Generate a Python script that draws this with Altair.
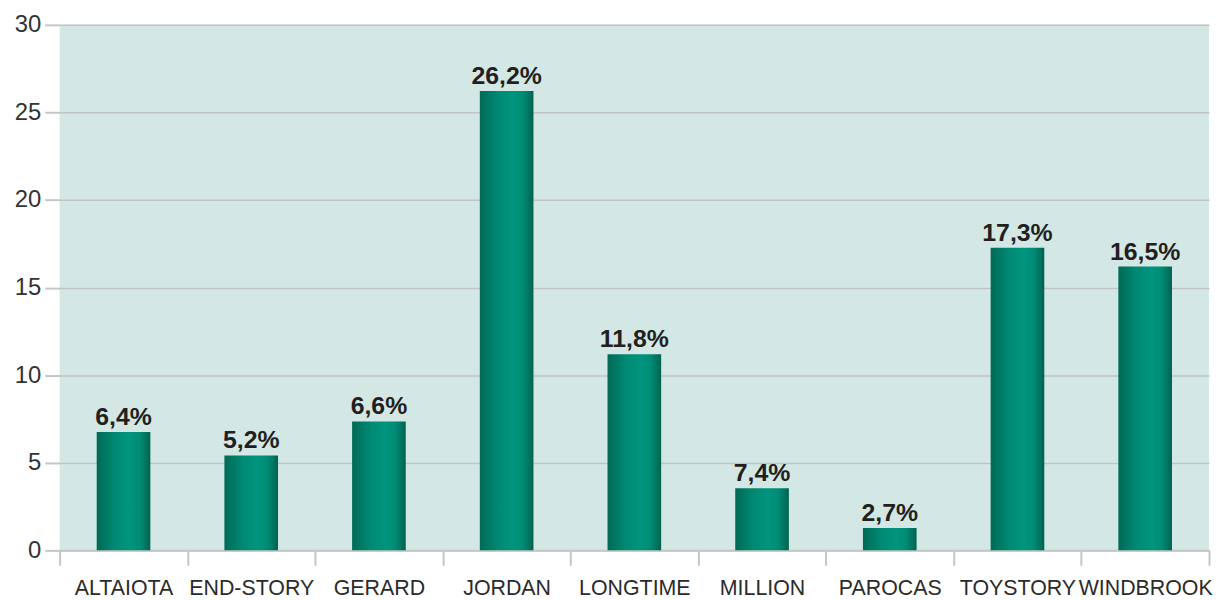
import altair as alt
import pandas as pd

categories = ["ALTAIOTA", "END-STORY", "GERARD", "JORDAN", "LONGTIME",
              "MILLION", "PAROCAS", "TOYSTORY", "WINDBROOK"]
bar_values = [6.75, 5.42, 7.36, 26.22, 11.2, 3.55, 1.28, 17.27, 16.2]
bar_labels = ["6,4%", "5,2%", "6,6%", "26,2%", "11,8%", "7,4%", "2,7%", "17,3%", "16,5%"]

df = pd.DataFrame({"cat": categories, "val": bar_values, "lab": bar_labels})

grad = alt.Gradient(
    gradient="linear",
    stops=[
        alt.GradientStop(color="#006a57", offset=0),
        alt.GradientStop(color="#008a74", offset=0.35),
        alt.GradientStop(color="#00947e", offset=0.62),
        alt.GradientStop(color="#008c76", offset=0.8),
        alt.GradientStop(color="#00634f", offset=1),
    ],
    x1=0, x2=1, y1=0, y2=0,
)

x = alt.X("cat:N", sort=categories, title=None,
          scale=alt.Scale(paddingInner=0, paddingOuter=0),
          axis=alt.Axis(labelAngle=0, labelFont="Liberation Sans", labelFontSize=21.5,
                        labelColor="#2b2b2b", labelPadding=12, tickBand="extent",
                        tickSize=15, tickColor="#c4c6c6", tickWidth=2,
                        domainColor="#c4c6c6", domainWidth=2, grid=False,
                        labelOverlap=False))
y = alt.Y("val:Q", title=None,
          scale=alt.Scale(domain=[0, 30], nice=False),
          axis=alt.Axis(values=[0, 5, 10, 15, 20, 25, 30], labelFont="Liberation Sans",
                        labelFontSize=24, labelColor="#333333", labelPadding=4,
                        tickSize=15, tickColor="#c4c6c6", tickWidth=2,
                        gridColor="#bfc3c3", gridWidth=1.5, domain=False))

bars = alt.Chart(df).mark_bar(color=grad, width=alt.RelativeBandSize(0.42)).encode(x=x, y=y)
text = alt.Chart(df).mark_text(dy=-7, baseline="alphabetic", font="Liberation Sans",
                               fontWeight="bold", fontSize=25, color="#231f20").encode(
    x=alt.X("cat:N", sort=categories), y="val:Q", text="lab:N")

chart = (bars + text).properties(
    width=1157, height=529,
    autosize=alt.AutoSizeParams(type="none"),
    padding={"left": 52, "top": 15, "right": 4, "bottom": 48},
).configure_view(fill="#d3e8e5", stroke=None)

chart.save("out.html", embed_options={"renderer": "svg", "actions": False})
